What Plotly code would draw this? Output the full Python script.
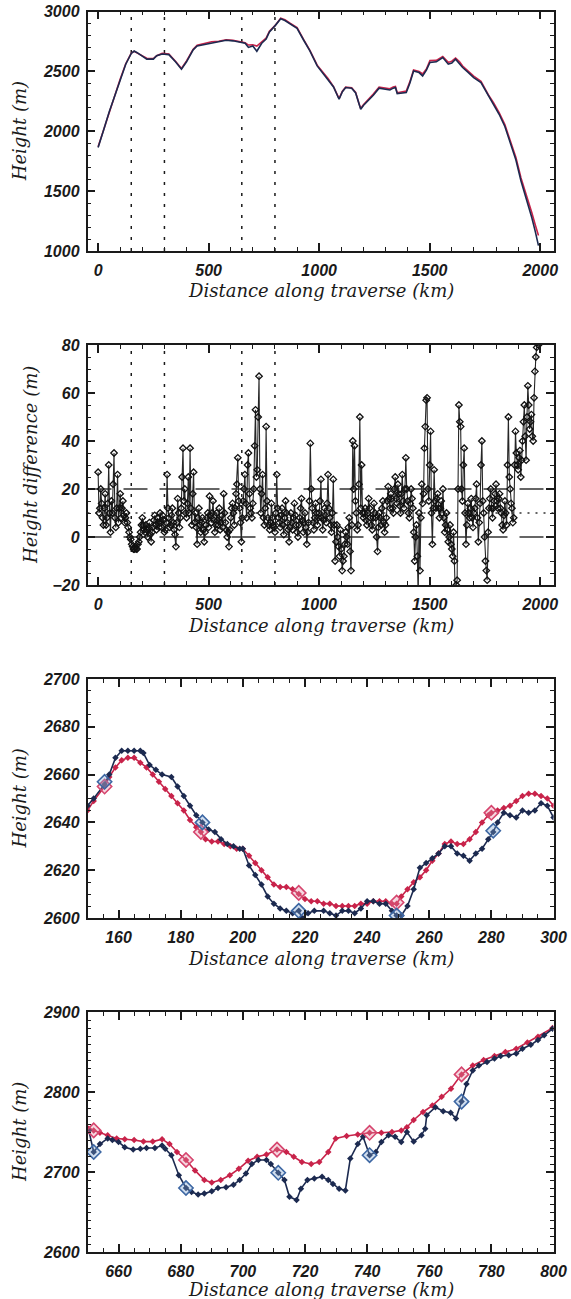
import plotly.graph_objects as go

# ---------------- data ----------------
# Panel 1: full traverse profile
p1_km = [0, 10, 25, 50, 75, 100, 125, 150, 163, 175, 200, 220, 250, 265, 290, 300, 320, 350, 377, 400,
         430, 448, 480, 513, 545, 579, 610, 645, 665, 680, 700, 718, 740, 760, 775, 800, 826, 845, 870, 900,
         930, 958, 991, 1020, 1040, 1065, 1090, 1105, 1120, 1147, 1165, 1180, 1188, 1200, 1221, 1245, 1271, 1300, 1320, 1335,
         1345, 1353, 1375, 1394, 1410, 1427, 1452, 1468, 1485, 1501, 1530, 1559, 1584, 1600, 1617, 1635, 1649, 1675, 1699, 1732,
         1765, 1790, 1814, 1840, 1863, 1890, 1913, 1940, 1962, 1978, 1992]
p1_blue = [1865, 1920, 2010, 2160, 2300, 2430, 2560, 2650, 2670, 2658, 2629, 2602, 2602, 2630, 2645, 2643, 2640, 2580, 2518, 2580,
           2680, 2713, 2725, 2741, 2748, 2760, 2755, 2741, 2735, 2700, 2712, 2668, 2735, 2770, 2830, 2880, 2940, 2925, 2895, 2860,
           2760, 2671, 2546, 2480, 2434, 2370, 2267, 2330, 2365, 2360, 2320, 2225, 2184, 2215, 2253, 2300, 2360, 2350, 2345, 2360,
           2365, 2315, 2320, 2323, 2400, 2504, 2490, 2462, 2510, 2574, 2580, 2615, 2560, 2570, 2602, 2565, 2532, 2490, 2448, 2407,
           2295, 2220, 2142, 2040, 1919, 1760, 1585, 1420, 1278, 1160, 1045]
p1_red = [1870, 1928, 2018, 2166, 2305, 2436, 2564, 2652, 2667, 2656, 2630, 2609, 2607, 2630, 2650, 2647, 2645, 2585, 2524, 2588,
          2685, 2718, 2732, 2748, 2752, 2764, 2760, 2748, 2740, 2720, 2722, 2712, 2748, 2778, 2836, 2882, 2945, 2932, 2900, 2866,
          2765, 2676, 2552, 2486, 2440, 2372, 2272, 2335, 2368, 2364, 2325, 2232, 2190, 2222, 2260, 2310, 2368, 2362, 2355, 2370,
          2374, 2322, 2330, 2335, 2412, 2512, 2500, 2478, 2520, 2590, 2592, 2625, 2575, 2585, 2612, 2580, 2545, 2500, 2460, 2418,
          2305, 2235, 2155, 2055, 1935, 1780, 1610, 1455, 1320, 1215, 1130]
section_bounds = [150, 300, 650, 800]

# Panel 2: height difference (m), sampled every 4 km starting at 0 km
diff_start = 0
diff_step = 4
diff = [27, 10, 12, 20, 14, 8, 5, 12, 18, 5, 8, 14, 30, 10, 2, 15, 10, 22, 35, 8,
        4, 12, 26, 6, 12, 18, 8, 12, 15, 9, 6, 8, 10, 6, 4, 2, 0, -1, -3, -4,
        -5, -5, -4, -5, -5, -3, -2, 0, 2, 5,
        8, 5, 3, 2, 5, 3, 0, 4, 6, 1, -2, 2, 4, 7, 9, 5, 3, 8, 6, 4,
        10, 6, 4, 9, 7, 2, 3, 6, 26, 12, 8, 4, 5, 9, 12, 6, 3, 1, -4, 6,
        16, 10, 4, 8, 12, 25, 37, 15, 20, 10,
        8, 14, 25, 10, 37, 12, 5, 18, 27, 6, 10, 4, -3, 8, 12, 5, 2, 6, 8, 3,
        -2, 2, 5, 8, 10, 4, 17, 9, 6, 10, 15, 7, 2, 5, 10, 7, 5, 12, 3, 6,
        9, 4, 18, 10, 6, 3, 0, 2, -4, 3,
        8, 12, 14, 10, 5, 12, 18, 22, 33, 15, 12, 6, -2, 8, 15, 20, 26, 14, 8, 30,
        35, 18, 12, 10, 8, 14, 20, 38, 53, 25, 28, 50, 67, 20, 10, 18, 26, 8, 5, 12,
        46, 15, 8, 5, 3, 6, 14, 8, 5, 4,
        2, 10, 26, 12, 8, 6, 4, 9, 12, 5, 1, 8, 15, 10, 6, 3, -2, 4, 10, 6,
        3, 8, 14, 9, 5, 2, 0, 5, 8, 12, 16, 7, 2, 6, 10, 4, -3, 2, 6, 15,
        39, 20, 12, 6, 3, 8, 14, 10, 5, 8,
        10, 15, 24, 8, 3, 7, 12, 9, 6, 14, 26, 12, 8, 5, 2, 10, 24, 5, -10, -2,
        5, 0, -4, -8, 3, -5, -14, -10, -8, -3, 2, 0, -3, 4, 8, -6, -14, 5, 40, 20,
        38, 15, 10, 3, 5, 22, 50, 12, 30, 10,
        8, 10, 12, 7, 5, 10, 16, 12, 8, 5, 3, 8, 14, 10, 8, 0, -6, 4, 10, 8,
        5, 12, 15, 6, 2, 5, 8, 15, 21, 16, 12, 18, 16, 12, 10, 20, 25, 16, 14, 22,
        18, 13, 10, 18, 26, 15, 12, 20, 33, 20,
        15, 10, 8, 14, 20, 16, 12, 2, -10, 0, 5, -8, -25, 10, -14, 8, 22, 14, 18, 37,
        46, 57, 58, 20, 15, 30, 44, 10, -3, 12, 28, 15, 12, 16, 18, 12, 8, 12, 15, 10,
        20, 8, 2, 5, 10, 3, -2, 0, 5, -3,
        -5, -8, 2, -10, -25, -20, -18, 20, 55, 48, 46, 20, 15, 30, 37, 10, -3, 5, 14, 10,
        8, 12, 16, 8, 4, 10, 12, 16, 22, 8, -2, 6, 14, 30, 40, 15, 10, 0, -10, -14,
        -18, 2, 12, 16, 20, 12, 8, 12, 15, 18,
        22, 15, 12, 16, 18, 12, 10, 5, 3, 9, 15, 10, 5, 30, 50, 25, 20, 14, 12, 6,
        8, 30, 44, 35, 30, 28, 33, 36, 25, 32, 40, 48, 55, 42, 32, 50, 63, 55, 45, 48,
        51, 42, 40, 58, 69, 75, 79, 82, 80]
diff_refs_dashed = [0, 20]
diff_ref_dotted = [10]

# Panel 3: 150-300 km section
p3_blue_km = [150, 152, 155.5, 157, 159, 161, 163, 165, 167, 168, 170, 172, 174, 177, 179, 181, 183, 185, 187, 189,
              191, 193, 195, 197, 199, 200, 202, 204, 206, 208, 210, 212, 214, 216, 218, 219, 221, 223, 226, 228,
              230, 232, 234, 236, 238, 240, 242, 244, 246, 248, 249.5, 251, 253, 255, 257, 259, 261, 263, 265, 267,
              269, 271, 273, 275, 277, 279, 280.6, 282, 284, 286, 288, 290, 292, 294, 296, 298, 300]
p3_blue_h = [2647, 2650, 2656, 2660, 2667, 2670, 2670, 2670, 2670, 2669, 2664, 2662, 2660, 2659, 2655, 2651, 2647, 2643, 2640, 2637,
             2636, 2633, 2631, 2630, 2629, 2629, 2622, 2618, 2614, 2609, 2606, 2604, 2603, 2602, 2603, 2600, 2602, 2603, 2603, 2602,
             2601, 2603, 2603, 2602, 2604, 2607, 2607, 2606, 2606, 2603, 2601, 2601, 2605, 2612, 2621, 2623, 2625, 2627, 2630, 2630,
             2627, 2626, 2624, 2627, 2629, 2633, 2636, 2640, 2644, 2643, 2642, 2645, 2644, 2645, 2648, 2647, 2642]
p3_red_km = [150, 152, 155.5, 157, 159, 161, 163, 165, 167, 169, 171, 173, 175, 177, 179, 181, 183, 185, 186.5, 188,
             190, 192, 194, 196, 198, 200, 202, 204, 206, 208, 210, 212, 214, 216, 218, 220, 222, 224, 226, 228,
             230, 232, 234, 236, 238, 240, 242, 244, 246, 248, 249.5, 251, 253, 255, 257, 259, 261, 263, 265, 267,
             269, 271, 273, 275, 277, 279, 280, 282, 284, 286, 288, 290, 292, 294, 296, 298, 300]
p3_red_h = [2645, 2649, 2655, 2659, 2663, 2666, 2667, 2667, 2665, 2663, 2660, 2657, 2654, 2651, 2648, 2645, 2641, 2638, 2636, 2633,
            2632, 2632, 2631, 2630, 2629, 2629, 2626, 2623, 2620, 2617, 2614, 2613, 2613, 2612, 2610, 2608, 2607, 2607, 2606, 2606,
            2605, 2605, 2605, 2605, 2606, 2606, 2607, 2607, 2607, 2606, 2606, 2609, 2612, 2615, 2617, 2620, 2624, 2627, 2631, 2632,
            2631, 2631, 2633, 2636, 2640, 2643, 2644, 2645, 2646, 2647, 2649, 2651, 2652, 2652, 2651, 2650, 2647]
p3_blue_big_km = [155.5, 187, 218, 249.5, 280.6]
p3_blue_big_h = [2657, 2640, 2603, 2601, 2636.5]
p3_red_big_km = [155.5, 186.5, 218, 249.5, 280]
p3_red_big_h = [2655, 2636, 2610.5, 2606.5, 2644]

# Panel 4: 650-800 km section
p4_blue_km = [650.4, 652, 654, 656.5, 658, 660, 662, 664.7, 667, 669, 671.7, 674, 675, 677, 679.4, 681.7, 683.5, 685.6, 687.6, 690,
              692, 694.6, 697, 699, 701, 702.9, 705, 707.6, 709, 711.4, 713.4, 715, 717.3, 718.7, 720.8, 723, 725.5, 727.5, 729, 731,
              733, 734.6, 737, 738.7, 740.8, 742.8, 744.6, 746.9, 749, 751, 752.8, 755, 757.5, 758.7, 759.2, 762, 764.5, 766.9, 768.6, 770.4,
              772, 774, 776, 778.6, 781, 783, 785.6, 788, 790, 792.7, 795, 797, 799.7]
p4_blue_h = [2752, 2725, 2735, 2742, 2740, 2737.5, 2731, 2728, 2729, 2730, 2730, 2733, 2729, 2721, 2696, 2680, 2675, 2672, 2673, 2676,
             2680, 2681, 2684, 2690, 2698, 2710, 2715, 2715, 2710, 2699, 2690, 2669, 2665, 2679, 2690, 2692, 2694, 2690, 2685, 2679,
             2677, 2717, 2735, 2744, 2721, 2725, 2737.5, 2746, 2744, 2737.5, 2750, 2738, 2746, 2754, 2771, 2781, 2776, 2774, 2767, 2788,
             2810, 2827, 2833, 2837.5, 2842, 2845, 2846, 2848, 2854, 2859, 2865, 2871, 2879]
p4_red_km = [650.4, 652, 654, 656.5, 659.4, 662, 665, 668, 671, 674, 676.4, 678.8, 681.7, 684.6, 687.6, 690, 692.9, 695.8, 698.7, 701.7,
             704.6, 707.6, 711, 714, 716.4, 719, 722, 724.6, 727.5, 729.9, 733.4, 737, 740.8, 744.6, 748, 751, 752.8, 755, 758, 761,
             764, 767, 770.4, 774, 777.5, 781, 784.5, 788, 791.6, 795, 799.7]
p4_red_h = [2754, 2752, 2749, 2746, 2742, 2741, 2740, 2738, 2738, 2741, 2735, 2725, 2715, 2702, 2690, 2687, 2690, 2696, 2704, 2714,
            2719, 2722, 2728, 2725, 2719, 2712.5, 2710, 2712.5, 2725, 2742, 2745, 2747, 2749, 2749, 2750, 2752, 2756, 2765, 2775, 2783,
            2794, 2804, 2822, 2833, 2840, 2845, 2850, 2854, 2862, 2869, 2880]
p4_blue_big_km = [652, 681.7, 711.4, 740.8, 770.4]
p4_blue_big_h = [2725, 2680, 2699, 2721, 2788]
p4_red_big_km = [652, 681.7, 711, 740.8, 770.4]
p4_red_big_h = [2752, 2715, 2728, 2749, 2822]

x_title = "Distance along traverse (km)"
y_titles = ["Height (m)", "Height difference (m)", "Height (m)", "Height (m)"]

# ---------------- style ----------------
W, H = 571, 1299
BLUE = "#1c2a50"
RED = "#c8234a"
BLUE_BIG = "#3d67a3"
RED_BIG = "#d6456e"
INK = "#1a1a1a"
TICKFONT = dict(family="Liberation Sans", size=16, color=INK, style="italic", weight="bold")
TITLEFONT = dict(family="DejaVu Serif", size=18, color=INK, style="italic")

x_left, x_right = 87.5, 553.5
panels_px = [(11.5, 251), (345, 585), (679, 918), (1012, 1252)]
x_title_gap = [39, 40, 40, 37]

fig = go.Figure()

def ax(n):
    return ("" if n == 1 else str(n))

# Panel 1
fig.add_trace(go.Scatter(x=p1_km, y=p1_red, mode="lines", line=dict(color=RED, width=1.6),
                         xaxis="x", yaxis="y", showlegend=False))
fig.add_trace(go.Scatter(x=p1_km, y=p1_blue, mode="lines", line=dict(color=BLUE, width=1.6),
                         xaxis="x", yaxis="y", showlegend=False))

# Panel 2
fig.add_trace(go.Scatter(x0=diff_start, dx=diff_step, y=diff, mode="lines+markers",
                         line=dict(color="#262626", width=1.1),
                         marker=dict(symbol="diamond-open", size=5, color="#111111", line=dict(width=1.3)),
                         xaxis="x2", yaxis="y2", showlegend=False))

# Panels 3 and 4
for n, (bk, bh, rk, rh, bbk, bbh, rbk, rbh) in zip(
        [3, 4],
        [(p3_blue_km, p3_blue_h, p3_red_km, p3_red_h, p3_blue_big_km, p3_blue_big_h, p3_red_big_km, p3_red_big_h),
         (p4_blue_km, p4_blue_h, p4_red_km, p4_red_h, p4_blue_big_km, p4_blue_big_h, p4_red_big_km, p4_red_big_h)]):
    xa, ya = "x" + str(n), "y" + str(n)
    fig.add_trace(go.Scatter(x=rk, y=rh, mode="lines+markers", line=dict(color=RED, width=1.6),
                             marker=dict(symbol="diamond", size=5, color=RED),
                             xaxis=xa, yaxis=ya, showlegend=False))
    fig.add_trace(go.Scatter(x=bk, y=bh, mode="lines+markers", line=dict(color=BLUE, width=1.6),
                             marker=dict(symbol="diamond", size=5, color=BLUE),
                             xaxis=xa, yaxis=ya, showlegend=False))
    fig.add_trace(go.Scatter(x=rbk, y=rbh, mode="markers",
                             marker=dict(symbol="diamond", size=11, color="rgba(230,140,165,0.35)",
                                         line=dict(color=RED_BIG, width=1.6)),
                             xaxis=xa, yaxis=ya, showlegend=False))
    fig.add_trace(go.Scatter(x=bbk, y=bbh, mode="markers",
                             marker=dict(symbol="diamond", size=11, color="rgba(120,160,210,0.35)",
                                         line=dict(color=BLUE_BIG, width=1.6)),
                             xaxis=xa, yaxis=ya, showlegend=False))

# reference lines
for n in (1, 2):
    for b in section_bounds:
        fig.add_shape(type="line", xref="x" + ax(n), yref="y" + ax(n) + " domain", x0=b, x1=b, y0=0, y1=1,
                      line=dict(color=INK, width=1.5, dash="3px,8px"), layer="below")
for v in diff_refs_dashed:
    fig.add_shape(type="line", xref="x2 domain", yref="y2", x0=0, x1=1, y0=v, y1=v,
                  line=dict(color="#333", width=1.3, dash="24px,12px"), layer="below")
for v in diff_ref_dotted:
    fig.add_shape(type="line", xref="x2 domain", yref="y2", x0=0, x1=1, y0=v, y1=v,
                  line=dict(color="#333", width=1.3, dash="2px,6px"), layer="below")

x_ranges = [[-48, 2060], [-48, 2060], [150, 300], [650, 800]]
x_dticks = [500, 500, 20, 20]
x_minor = [100, 100, 5, 5]
y_ranges = [[1000, 3000], [-20, 80], [2600, 2700], [2600, 2900]]
y_dticks = [500, 20, 20, 100]
y_minor = [100, 5, 5, 10]

layout = dict(template="none", width=W, height=H, margin=dict(l=0, r=0, t=0, b=0, pad=0),
              paper_bgcolor="white", plot_bgcolor="white", showlegend=False)
annotations = []
for i in range(4):
    n = i + 1
    top, bot = panels_px[i]
    common = dict(showline=True, linecolor=INK, linewidth=1.5, mirror="allticks", ticks="inside",
                  ticklen=8, tickwidth=1.5, tickcolor=INK, showgrid=False, zeroline=False,
                  tickfont=TICKFONT, automargin=False)
    layout["xaxis" + ax(n)] = dict(common, domain=[x_left / W, x_right / W], range=x_ranges[i],
                                   anchor="y" + ax(n), tick0=0, dtick=x_dticks[i], tickformat="d",
                                   ticklabelstandoff=4,
                                   minor=dict(ticks="inside", ticklen=4, tickwidth=1.2, tickcolor=INK,
                                              dtick=x_minor[i], showgrid=False))
    layout["yaxis" + ax(n)] = dict(common, domain=[1 - bot / H, 1 - top / H], range=y_ranges[i],
                                   anchor="x" + ax(n), tick0=0, dtick=y_dticks[i], tickformat="d",
                                   ticklabelstandoff=3,
                                   minor=dict(ticks="inside", ticklen=4, tickwidth=1.2, tickcolor=INK,
                                              dtick=y_minor[i], showgrid=False))
    annotations.append(dict(text=x_title, xref="paper", yref="paper", x=(x_left + x_right) / 2 / W,
                            y=1 - (bot + x_title_gap[i]) / H, showarrow=False, font=TITLEFONT,
                            xanchor="center", yanchor="middle"))
    annotations.append(dict(text=y_titles[i], xref="paper", yref="paper",
                            x=(31 if i == 1 else 19) / W, y=1 - (top + bot) / 2 / H,
                            showarrow=False, font=TITLEFONT, textangle=-90,
                            xanchor="center", yanchor="middle"))
layout["annotations"] = annotations
fig.update_layout(**layout)

fig.write_html("out.html", config={"displayModeBar": False},
               post_script="document.body.style.margin='0';document.body.style.overflow='hidden';")
